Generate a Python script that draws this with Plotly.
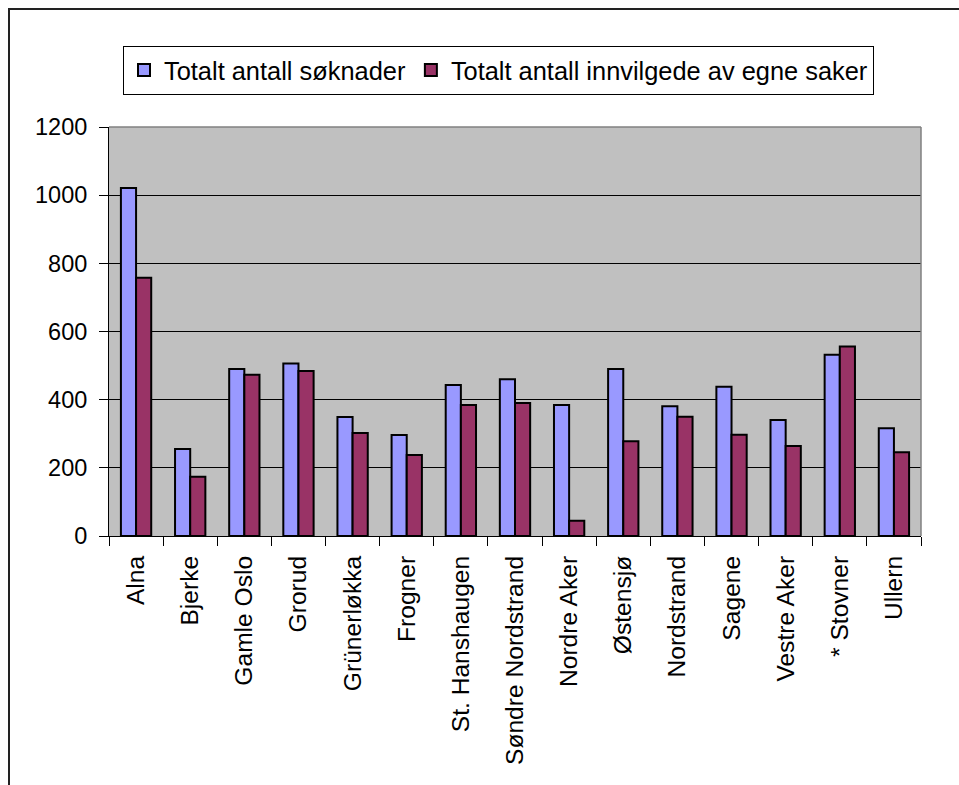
import plotly.graph_objects as go

# District names and the two counts per district
districts = ["Alna", "Bjerke", "Gamle Oslo", "Grorud", "Grünerløkka", "Frogner",
             "St. Hanshaugen", "Søndre Nordstrand", "Nordre Aker", "Østensjø",
             "Nordstrand", "Sagene", "Vestre Aker", "* Stovner", "Ullern"]
total_applications = [1021, 255, 490, 506, 349, 296, 443, 460, 384, 490,
                      381, 438, 340, 532, 316]
total_granted = [758, 174, 473, 484, 302, 238, 384, 390, 45, 278,
                 350, 297, 264, 556, 246]

series_names = ["Totalt antall søknader", "Totalt antall innvilgede av egne saker"]
y_ticks = [0, 200, 400, 600, 800, 1000, 1200]

FONT = "Liberation Sans, Arial, sans-serif"

# plot area in pixels: x 109..921, y 127..536
W, H = 959, 785
L, R, T, B = 109, 38, 127, 249
PW, PH = W - L - R, H - T - B


def px_x(p):
    return (p - L) / PW


def px_y(p):
    return (H - B - p) / PH


fig = go.Figure()
fig.add_trace(go.Bar(
    x=districts, y=total_applications, name=series_names[0],
    marker=dict(color="#9999FF", line=dict(color="#000000", width=2)),
))
fig.add_trace(go.Bar(
    x=districts, y=total_granted, name=series_names[1],
    marker=dict(color="#993366", line=dict(color="#000000", width=2)),
))

fig.update_layout(
    width=W, height=H,
    margin=dict(l=L, r=R, t=T, b=B, pad=0),
    paper_bgcolor="white",
    plot_bgcolor="#C0C0C0",
    barmode="group",
    bargap=0.44,
    bargroupgap=0,
    font=dict(family=FONT, size=23.5, color="#000000"),
    showlegend=True,
    legend=dict(
        orientation="h",
        x=px_x(123), xanchor="left",
        y=px_y(46), yanchor="top",
        bgcolor="white",
        bordercolor="#000000", borderwidth=1,
        font=dict(family=FONT, size=25.4, color="#000000"),
        traceorder="normal",
    ),
    xaxis=dict(
        type="category",
        tickangle=-90,
        tickson="boundaries",
        ticks="outside", ticklen=9, tickcolor="#000000", tickwidth=1,
        showline=True, linecolor="#000000", linewidth=1,
        showgrid=False,
        ticklabelstandoff=9,
        automargin=False,
        tickfont=dict(family=FONT, size=24.6, color="#000000"),
    ),
    yaxis=dict(
        range=[0, 1200],
        tickvals=y_ticks,
        ticks="outside", ticklen=9, tickcolor="#000000", tickwidth=1,
        showline=True, linecolor="#000000", linewidth=1,
        showgrid=True, gridcolor="#000000", gridwidth=1,
        zeroline=False,
        automargin=False,
        ticklabelstandoff=7,
        tickfont=dict(family=FONT, size=23.5, color="#000000"),
    ),
    shapes=[
        # gray top and right edges of the plot area
        dict(type="line", xref="paper", yref="paper", x0=0, x1=1, y0=1, y1=1,
             line=dict(color="#808080", width=1.5), layer="above"),
        dict(type="line", xref="paper", yref="paper", x0=1, x1=1, y0=0, y1=1,
             line=dict(color="#808080", width=1.5), layer="above"),
        # outer chart frame
        dict(type="rect", xref="paper", yref="paper",
             x0=px_x(9), x1=px_x(975), y0=px_y(800), y1=px_y(9),
             line=dict(color="#222222", width=2), fillcolor="rgba(0,0,0,0)",
             layer="above"),
    ],
)

fig.write_html("out.html")
